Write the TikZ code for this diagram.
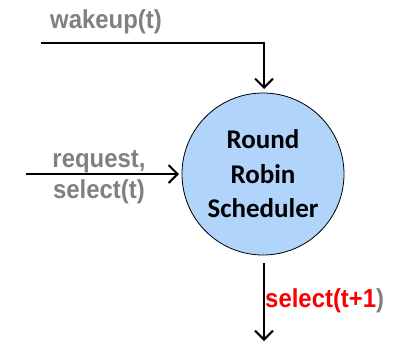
\documentclass[tikz,border=0pt]{standalone}
\usepackage{fontspec}
\setmainfont{Liberation Sans}
\newfontfamily\labelfont[FakeStretch=0.92]{Liberation Sans}
\newfontfamily\calibrifont{Carlito}
\usetikzlibrary{arrows.meta}
\definecolor{nodeblue}{RGB}{176,212,250}
\definecolor{labelgray}{RGB}{128,128,128}
\definecolor{labelred}{RGB}{250,0,0}
\begin{document}
\begin{tikzpicture}[x=1pt,y=-1pt,
  wire/.style={line width=2pt,-{Straight Barb[length=9pt,width=18pt,line width=2pt]}},
  sig/.style={font=\labelfont\fontsize{26}{31}\selectfont\bfseries,text=labelgray,inner sep=0pt},
  sched/.style={circle,draw=black,line width=0.8pt,fill=nodeblue,minimum size=162pt,inner sep=0pt,
    align=center,font=\calibrifont\fontsize{27}{34.5}\selectfont\bfseries}]
  \useasboundingbox (0,0) rectangle (406,343);
  % scheduler
  \node[sched] (rr) at (263,174) {Round\\Robin\\Scheduler};
  % inputs and output
  \coordinate (wk) at (41,43);
  \coordinate (wkc) at (264,43);
  \coordinate (wkt) at (264,89);
  \coordinate (rq) at (26,174);
  \coordinate (rqt) at (179,174);
  \coordinate (os) at (264,263);
  \coordinate (ot) at (264,341);
  \draw[wire] (wk) -- (wkc) -- (wkt);
  \draw[wire] (rq) -- (rqt);
  \draw[wire] (os) -- (ot);
  % labels
  \node[sig] (lwk) at (106,22) {wakeup(t)};
  \node[sig,align=center] (lrq) at (99,177) {request,\\select(t)};
  \node[sig,anchor=west] (lsel) at (265,301) {\textcolor{labelred}{select(t+1}\textcolor{labelgray}{)}};
\end{tikzpicture}
\end{document}
